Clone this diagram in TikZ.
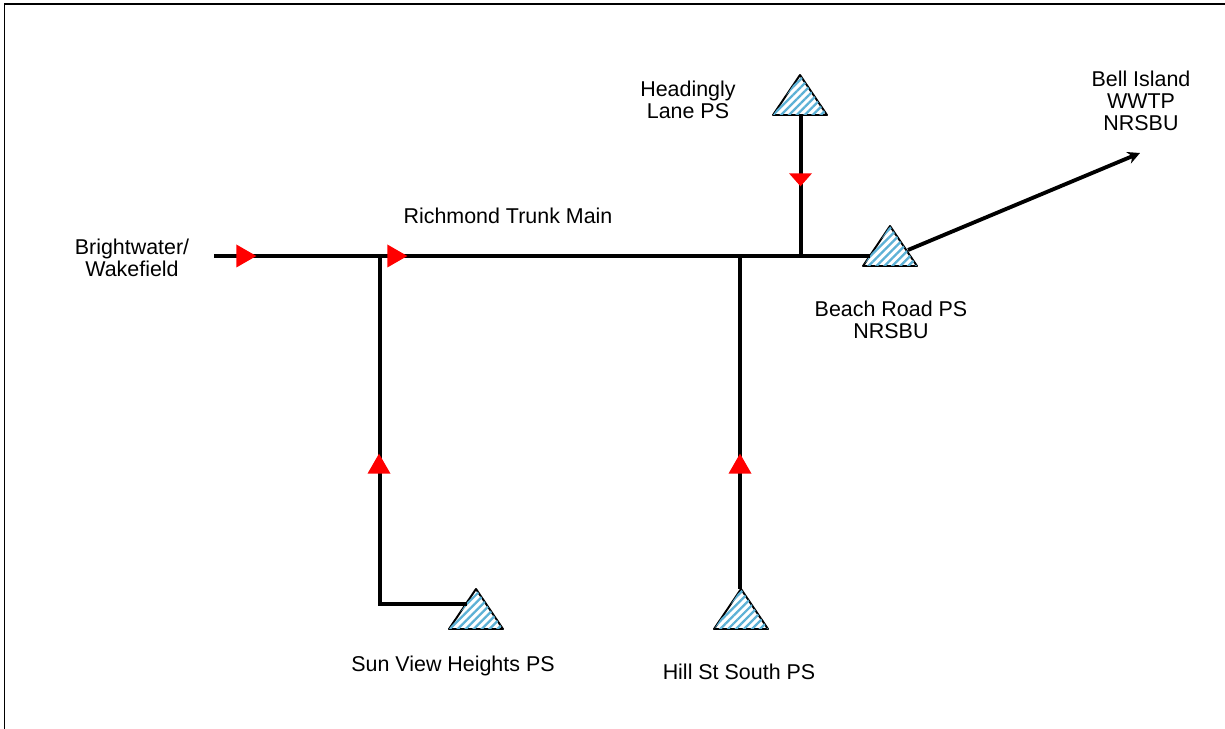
\documentclass[tikz,border=0pt]{standalone}
\usepackage{fontspec}
\setmainfont{Liberation Sans}
\usetikzlibrary{shapes.geometric,patterns.meta,arrows.meta}
\tikzset{
  station/.style={isosceles triangle, isosceles triangle stretches, shape border rotate=90, anchor=apex, outer sep=0pt, minimum width=1.08cm, minimum height=0.8cm, inner sep=0pt, draw=black, line width=1.1pt, line join=round, fill=white,
    postaction={pattern={Lines[angle=45,distance=3.2pt,line width=1.3pt]}, pattern color=blue!30!cyan!60!gray!80}},
  flowmark/.style={isosceles triangle, isosceles triangle stretches, minimum width=0.46cm, minimum height=0.4cm, inner sep=0pt, fill=red},
  main/.style={line width=2.2pt},
  lbl/.style={font=\fontsize{12.2pt}{12.6pt}\selectfont, align=center}
}
\begin{document}
\begin{tikzpicture}[x=0.02cm, y=-0.02cm]
  \useasboundingbox (0,0) rectangle (1225,729);
  % frame
  \coordinate (fbl) at (4.5,729);
  \coordinate (ftl) at (4.5,4);
  \coordinate (ftr) at (1225,4);
  \draw[line width=1.1pt] (fbl) -- (ftl) -- (ftr);
  % pump stations
  \node[station] (headingly) at (800,75) {};
  \node[station] (beach) at (890,226) {};
  \node[station] (sunview) at (476,589) {};
  \node[station] (hillst) at (741,589) {};
  % junctions
  \coordinate (start) at (214,256);
  \coordinate (jsun) at (380,256);
  \coordinate (jhill) at (740,256);
  \coordinate (jhead) at (801,256);
  \coordinate (jbeach) at (870,256);
  \coordinate (corner) at (380,604);
  \coordinate (jsunview) at (467,604);
  \coordinate (tbeach) at (908,250);
  \coordinate (bell) at (1140,153);
  % pipes
  \draw[main] (start) -- (jsun) -- (jhill) -- (jhead) -- (jbeach);
  \draw[main] (jsunview) -- (corner) -- (jsun);
  \draw[main] (jhill) -- (jhill |- hillst.apex);
  \draw[main] (jhead |- headingly.south) -- (jhead);
  \draw[main, -{Stealth[length=7pt,width=7pt]}] (tbeach) -- (bell);
  % flow direction
  \node[flowmark] (f1) at (243,256) {};
  \node[flowmark] (f2) at (394,256) {};
  \node[flowmark, shape border rotate=90] (f3) at (379,467) {};
  \node[flowmark, shape border rotate=90] (f4) at (740,467) {};
  \node[flowmark, shape border rotate=-90, minimum height=0.26cm] (f5) at (800.5,178.5) {};
  % labels
  \node[lbl] (lbright) at (132,258) {Brightwater/\\Wakefield};
  \node[lbl] (ltrunk) at (508,216) {Richmond Trunk Main};
  \node[lbl] (lhead) at (688,100) {Headingly\\Lane PS};
  \node[lbl] (lbell) at (1141,101) {Bell Island\\WWTP\\NRSBU};
  \node[lbl] (lbeach) at (891,320) {Beach Road PS\\NRSBU};
  \node[lbl] (lsun) at (453,666) {Sun View Heights PS};
  \node[lbl] (lhill) at (739,672) {Hill St South PS};
\end{tikzpicture}
\end{document}
